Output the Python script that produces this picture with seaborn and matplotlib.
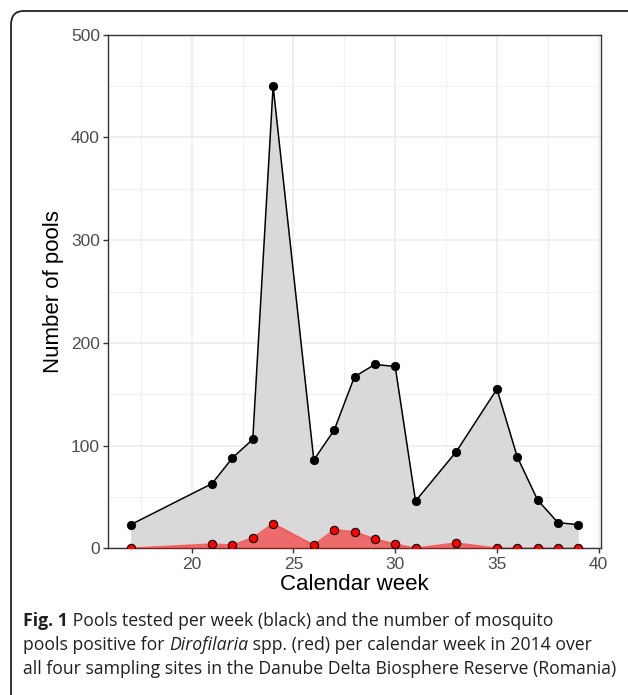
import numpy as np
import pandas as pd
import matplotlib
matplotlib.use("Agg")
import matplotlib.pyplot as plt
import seaborn as sns
from matplotlib.patches import FancyBboxPatch
from matplotlib.ticker import MultipleLocator

# --- Data ---
weeks = [17, 21, 22, 23, 24, 26, 27, 28, 29, 30, 31, 33, 35, 36, 37, 38, 39]
pools_tested = [23, 63, 88, 106, 450, 86, 115, 167, 179, 177, 46, 94, 155, 89, 47, 25, 23]
pools_positive = [0, 4, 3, 10, 24, 3, 18, 16, 9, 4, 0, 5, 0, 0, 0, 0, 0]

df = pd.DataFrame({'week': weeks, 'tested': pools_tested, 'positive': pools_positive})

sns.set_theme(style='whitegrid')
plt.rcParams['font.family'] = ['Liberation Sans', 'DejaVu Sans']

W, H = 628, 695
fig = plt.figure(figsize=(W / 100, H / 100), dpi=100)
ax = fig.add_axes([108.3 / W, 1 - 548.3 / H, (600.7 - 108.3) / W, (548.3 - 34.7) / H])

# filled areas
ax.fill_between(df['week'], 0, df['tested'], color='#D9D9D9', lw=0, zorder=2)
ax.fill_between(df['week'], 0, df['positive'], color='red', alpha=0.5, lw=0, zorder=3)

# lines and points
sns.lineplot(data=df, x='week', y='tested', color='black', lw=1.1, ax=ax, zorder=4)
sns.lineplot(data=df, x='week', y='positive', color='#FF3B3B', alpha=0.75, lw=1.3, ax=ax, zorder=4)
sns.scatterplot(data=df, x='week', y='tested', color='black', s=36, edgecolor='black',
                linewidth=0.6, ax=ax, zorder=5)
sns.scatterplot(data=df, x='week', y='positive', color='red', s=36, edgecolor='black',
                linewidth=0.8, ax=ax, zorder=6)

ax.set_xlim(15.9, 40.1)
ax.set_ylim(0, 500)
ax.xaxis.set_major_locator(MultipleLocator(5))
ax.xaxis.set_minor_locator(MultipleLocator(2.5))
ax.yaxis.set_major_locator(MultipleLocator(100))
ax.yaxis.set_minor_locator(MultipleLocator(50))
ax.grid(which='major', color='#EBEBEB', lw=1.1)
ax.grid(which='minor', color='#F0F0F0', lw=0.8)
ax.set_axisbelow(True)
ax.set_facecolor('white')
for s in ax.spines.values():
    s.set_visible(True)
    s.set_color('#333333')
    s.set_linewidth(1.0)
ax.tick_params(which='major', length=3.5, width=1.0, color='#333333',
               labelsize=12.5, labelcolor='#4D4D4D', pad=2.5, left=True, bottom=True)
ax.tick_params(which='minor', length=0)

ax.set_xlabel('Calendar week', fontsize=16, color='black', labelpad=2)
ax.set_ylabel('Number of pools', fontsize=16, color='black', labelpad=5)

# outer frame (rounded top-left corner, cut off at right and bottom)
frame = FancyBboxPatch((11 / W, -0.05), 1.2, 1 - 11 / H + 0.05,
                       boxstyle='round,pad=0,rounding_size=0.02',
                       transform=fig.transFigure, fill=False, ec='#222222', lw=1.3,
                       clip_on=False)
fig.patches.append(frame)

# caption with mixed styles
cap_font = ['Open Sans', 'DejaVu Sans']
cap_size = 12.7
lines = [
    [('Fig. 1', 'bold', 'normal'), (' Pools tested per week (black) and the number of mosquito', 'normal', 'normal')],
    [('pools positive for ', 'normal', 'normal'), ('Dirofilaria', 'normal', 'italic'),
     (' spp. (red) per calendar week in 2014 over', 'normal', 'normal')],
    [('all four sampling sites in the Danube Delta Biosphere Reserve (Romania)', 'normal', 'normal')],
]
baselines = [625.5, 650, 674.5]
renderer = fig.canvas.get_renderer()
for parts, yb in zip(lines, baselines):
    x = 23
    for txt, wt, st in parts:
        t = fig.text(x / W, 1 - yb / H, txt, fontsize=cap_size, family=cap_font,
                     weight=wt, style=st, color='#231F20', va='baseline', ha='left')
        bb = t.get_window_extent(renderer=renderer)
        x += bb.width

fig.savefig('out.png', dpi=100, facecolor='white')
